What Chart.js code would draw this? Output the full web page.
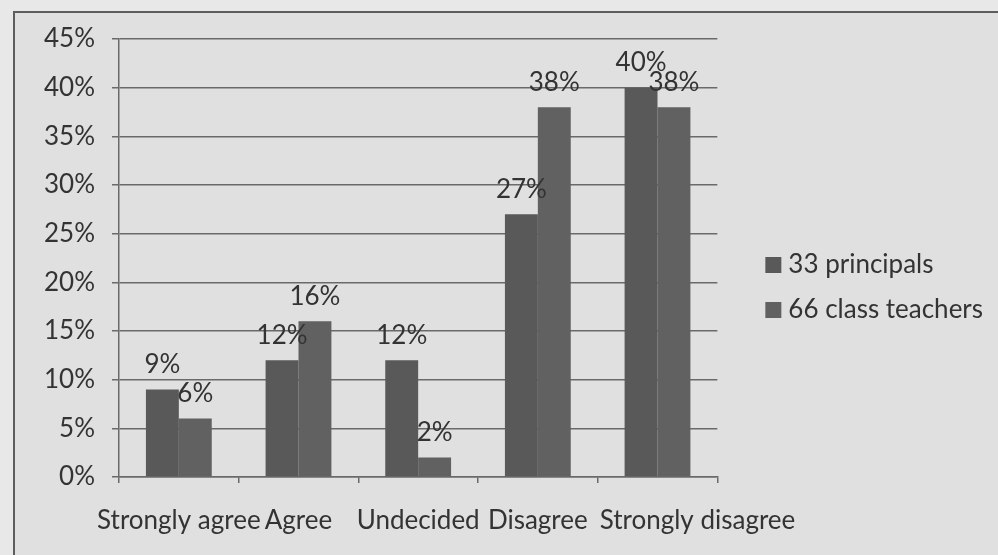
<!DOCTYPE html>
<html>
<head>
<meta charset="utf-8">
<script src="https://cdn.jsdelivr.net/npm/chart.js@4.4.1/dist/chart.umd.min.js"></script>
<style>
  html, body { margin: 0; padding: 0; background: #e8e8e8; }
  body { width: 998px; height: 555px; position: relative; overflow: hidden; }
  #frame { position: absolute; left: 13px; top: 11px; width: 1100px; height: 700px;
           border-top: 2px solid #5e5e5e; border-left: 2px solid #5e5e5e; background: #e0e0e0; }
  #wrap { position: absolute; left: 0; top: 0; width: 998px; height: 555px; }
</style>
</head>
<body>
<div id="frame"></div>
<div id="wrap"><canvas id="c" width="998" height="555"></canvas></div>
<script>
// ---- data ----
const categories = ["Strongly agree", "Agree", "Undecided", "Disagree", "Strongly disagree"];
const principals = [9, 12, 12, 27, 40];
const classTeachers = [6, 16, 2, 38, 38];
const seriesNames = ["33 principals", "66 class teachers"];
const yTicks = [0, 5, 10, 15, 20, 25, 30, 35, 40, 45];

// ---- style ----
const FS = 26;
const FONT = "Lato";
const TEXT = "#333333";
const GRID = "#6a6a6a";
const LEG_PAD = 45 - FS;
const BOX = 4, BOX_LW = 12;          // visible legend square = 16px
const LEG_LEFT = 765 + BOX_LW / 2 - LEG_PAD;   // legend block left edge
const CHART_RIGHT = 717;

// measure legend width to place it
const mctx = document.createElement("canvas").getContext("2d");
mctx.font = FS + "px " + FONT;
const maxText = Math.max(...seriesNames.map(s => mctx.measureText(s).width));
const legendWidth = Math.ceil(LEG_PAD + BOX + FS / 2 + maxText + 10);
const padRight = Math.max(0, 998 - LEG_LEFT - legendWidth);

const labelPlugin = {
  id: "barLabels",
  beforeDraw(chart) {
    const items = chart.scales.x.getLabelItems();
    if (!items._shifted && items[4]) {
      items[4].options.translation[0] += 40;
      items._shifted = true;
    }
  },
  afterDatasetsDraw(chart) {
    const ctx = chart.ctx;
    ctx.save();
    ctx.font = FS + "px " + FONT;
    ctx.fillStyle = TEXT;
    ctx.textAlign = "center";
    ctx.textBaseline = "middle";
    chart.data.datasets.forEach((ds, di) => {
      const meta = chart.getDatasetMeta(di);
      meta.data.forEach((bar, i) => {
        ctx.fillText(ds.data[i] + "%", bar.x, bar.y - 25);
      });
    });
    ctx.restore();
  }
};

new Chart(document.getElementById("c"), {
  type: "bar",
  data: {
    labels: categories,
    datasets: [
      { label: seriesNames[0], data: principals, backgroundColor: "#595959", borderWidth: 0,
        categoryPercentage: 0.55, barPercentage: 1.0 },
      { label: seriesNames[1], data: classTeachers, backgroundColor: "#616161", borderWidth: 0,
        categoryPercentage: 0.55, barPercentage: 1.0 }
    ]
  },
  options: {
    responsive: false,
    animation: false,
    devicePixelRatio: 1,
    layout: { padding: { left: 0, top: 39, bottom: 19, right: padRight } },
    plugins: {
      tooltip: { enabled: false },
      legend: {
        position: "right",
        align: "center",
        maxWidth: legendWidth,
        labels: {
          font: { family: FONT, size: FS },
          color: TEXT,
          boxWidth: BOX,
          boxHeight: BOX,
          padding: LEG_PAD,
          generateLabels(chart) {
            const items = Chart.defaults.plugins.legend.labels.generateLabels(chart);
            items.forEach(it => { it.lineWidth = BOX_LW; it.strokeStyle = it.fillStyle; it.lineJoin = "miter"; });
            return items;
          }
        }
      }
    },
    scales: {
      x: {
        type: "category",
        offset: true,
        grid: { display: true, drawOnChartArea: false, drawTicks: true, tickLength: 6, color: GRID, lineWidth: 1.5, offset: true },
        border: { display: true, color: GRID, width: 1.5 },
        ticks: { font: { family: FONT, size: FS }, color: TEXT, padding: 22, maxRotation: 0, autoSkip: false },
        afterFit(s) { s.height = 59; }
      },
      y: {
        min: 0, max: 45,
        afterBuildTicks(s) { s.ticks = yTicks.map(v => ({ value: v })); },
        grid: { color: GRID, lineWidth: 1.5, tickLength: 7, drawTicks: true },
        border: { display: true, color: GRID, width: 1.5 },
        ticks: { font: { family: FONT, size: FS }, color: TEXT, padding: 17, callback: v => v + "%" },
        afterFit(s) { s.width = 119; }
      },
      y2: {
        type: "linear",
        position: "right",
        display: true,
        grid: { display: false, drawTicks: false },
        border: { display: false },
        ticks: { display: false },
        afterFit(s) { s.width = LEG_LEFT - CHART_RIGHT; }
      }
    }
  },
  plugins: [labelPlugin]
});
</script>
</body>
</html>
